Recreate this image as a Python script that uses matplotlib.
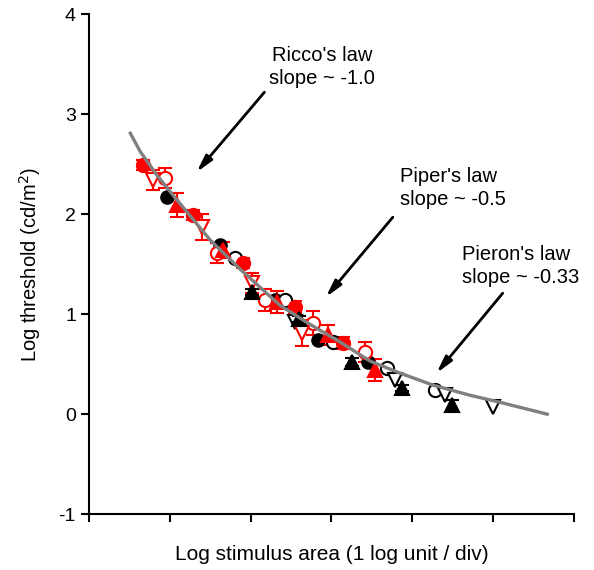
import numpy as np
import matplotlib
matplotlib.use("Agg")
import matplotlib.pyplot as plt

plt.rcParams['font.family'] = ['Liberation Sans', 'DejaVu Sans']
plt.rcParams['axes.unicode_minus'] = False

# fitted curve
curve_x = [0.51, 0.63, 0.84, 1.06, 1.50, 1.87, 2.36, 2.71, 3.11, 3.48, 3.85, 4.26, 4.71, 5.08, 5.67]
curve_y = [2.81, 2.63, 2.39, 2.17, 1.74, 1.45, 1.09, 0.91, 0.72, 0.53, 0.41, 0.29, 0.19, 0.12, 0.00]

# red series
rfc_x = [0.67, 1.29, 1.91, 2.55, 3.14]
rfc_y = [2.49, 1.99, 1.51, 1.07, 0.71]
rfc_e = [0.05, 0.05, 0.05, 0.06, 0.06]

roc_x = [0.94, 1.58, 2.18, 2.77, 3.41]
roc_y = [2.36, 1.61, 1.14, 0.91, 0.62]
roc_e = [0.10, 0.10, 0.11, 0.12, 0.10]

rodt_x = [0.79, 1.40, 2.02, 2.64]
rodt_y = [2.34, 1.87, 1.31, 0.81]
rodt_e = [0.10, 0.13, 0.10, 0.13]

rft_x = [1.09, 1.66, 2.33, 2.96, 3.54]
rft_y = [2.09, 1.64, 1.12, 0.79, 0.44]
rft_e = [0.12, 0.08, 0.11, 0.10, 0.11]

# black series
bfc_x = [0.97, 1.62, 2.30, 2.83, 3.45]
bfc_y = [2.17, 1.69, 1.14, 0.74, 0.52]

boc_x = [1.81, 2.42, 3.02, 3.69, 4.28]
boc_y = [1.56, 1.14, 0.72, 0.46, 0.24]

bodt_x = [2.55, 3.79, 4.40, 5.00]
bodt_y = [0.92, 0.34, 0.19, 0.07]

bft_x = [2.02, 2.60, 3.25, 3.87, 4.49]
bft_y = [1.22, 0.95, 0.52, 0.26, 0.09]
bft_e = [0.03, 0.03, 0.04, 0.03, 0.05]

fig = plt.figure(figsize=(5.94, 5.70), dpi=100)
ax = fig.add_axes([0.150, 0.098, 0.816, 0.877])

ms = 9.5
kw = dict(ls='none', capsize=5, elinewidth=1.5, capthick=1.5, markersize=ms, markeredgewidth=1.5)

ax.errorbar(rfc_x, rfc_y, yerr=rfc_e, marker='o', color='red', mfc='red', mec='red', **kw)
ax.errorbar(roc_x, roc_y, yerr=roc_e, marker='o', color='red', mfc='white', mec='red', **kw)
ax.errorbar(rodt_x, rodt_y, yerr=rodt_e, marker='v', color='red', mfc='white', mec='red', **kw)
ax.errorbar(rft_x, rft_y, yerr=rft_e, marker='^', color='red', mfc='red', mec='red', **kw)

ax.plot(bfc_x, bfc_y, 'o', color='black', markersize=ms)
ax.plot(boc_x, boc_y, 'o', mfc='white', mec='black', mew=1.5, markersize=ms)
ax.plot(bodt_x, bodt_y, 'v', mfc='white', mec='black', mew=1.5, markersize=ms)
ax.errorbar(bft_x, bft_y, yerr=bft_e, marker='^', color='black', mfc='black', mec='black', **kw)

ax.plot(curve_x, curve_y, color='#808080', lw=2.4, zorder=10)

arrow = dict(arrowstyle='-|>,head_length=1.0,head_width=0.25', color='black', lw=2, shrinkA=0, shrinkB=0)
ax.annotate('', xy=(1.33, 2.42), xytext=(2.17, 3.22), arrowprops=arrow)
ax.annotate('', xy=(2.93, 1.17), xytext=(3.76, 1.97), arrowprops=arrow)
ax.annotate('', xy=(4.30, 0.41), xytext=(5.12, 1.21), arrowprops=arrow)

ax.text(2.88, 3.47, "Ricco's law\nslope ~ -1.0", ha='center', va='center', fontsize=14.5, linespacing=1.25)
ax.text(3.85, 2.26, "Piper's law\nslope ~ -0.5", ha='left', va='center', fontsize=14.5, linespacing=1.25)
ax.text(4.61, 1.48, "Pieron's law\nslope ~ -0.33", ha='left', va='center', fontsize=14.5, linespacing=1.25)

ax.set_xlim(0, 6)
ax.set_ylim(-1, 4)
ax.set_xticks(range(7))
ax.set_xticklabels([])
ax.set_yticks(range(-1, 5))
ax.tick_params(direction='out', length=6, width=1.5, labelsize=14)
for s in ['top', 'right']:
    ax.spines[s].set_visible(False)
for s in ['left', 'bottom']:
    ax.spines[s].set_linewidth(1.5)

ax.set_xlabel('Log stimulus area (1 log unit / div)', fontsize=15, labelpad=13)
ax.set_ylabel('Log threshold (cd/m$^2$)', fontsize=14.5, labelpad=11)

fig.savefig('out.png', dpi=100)
